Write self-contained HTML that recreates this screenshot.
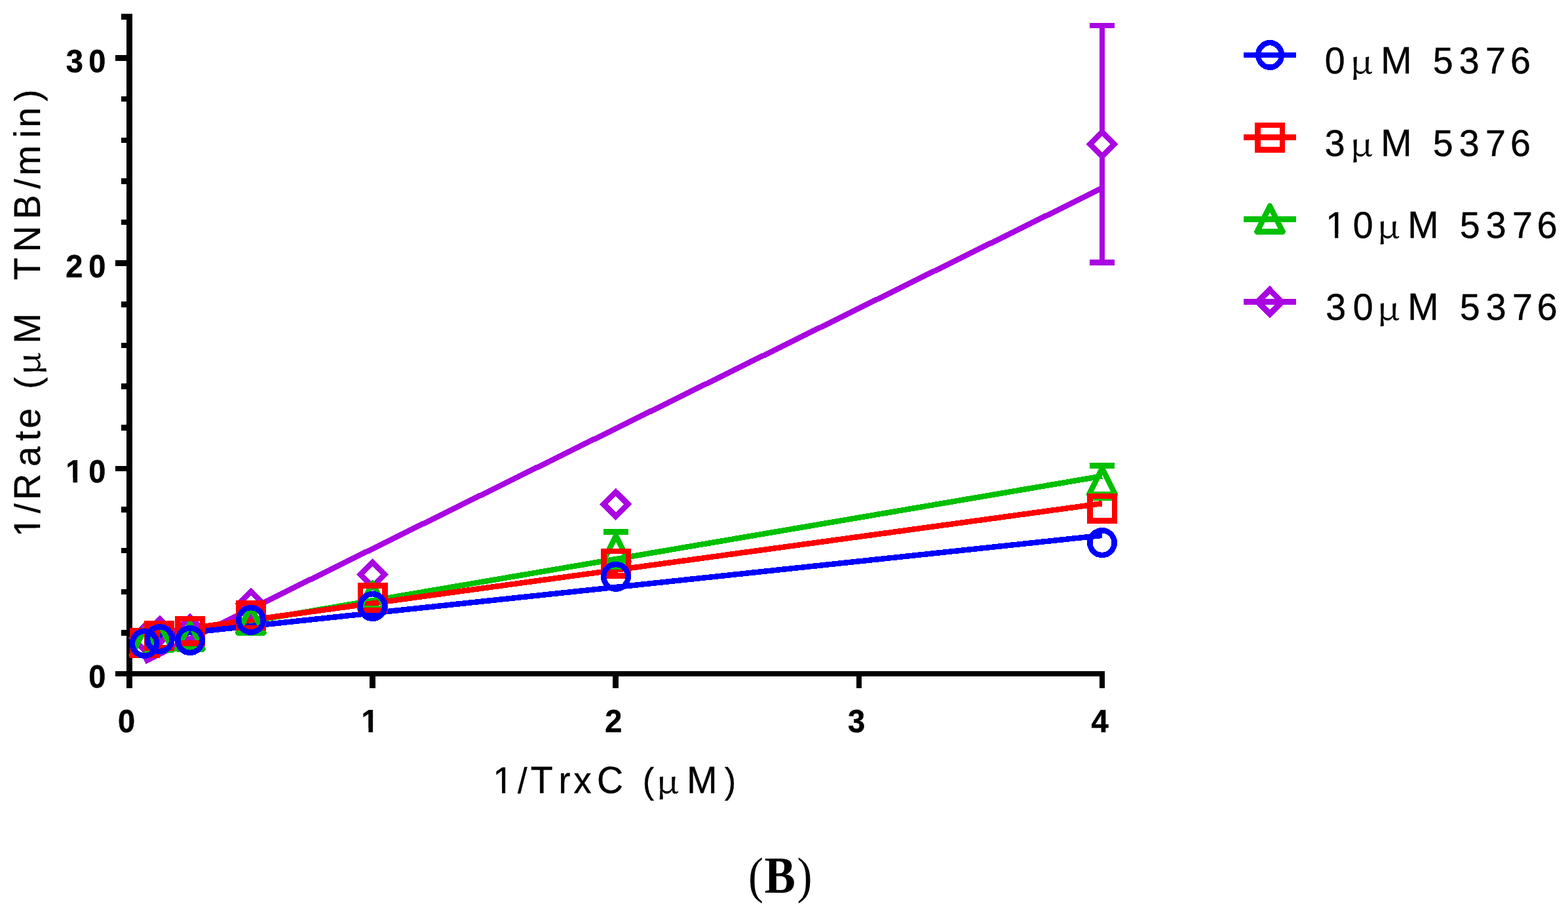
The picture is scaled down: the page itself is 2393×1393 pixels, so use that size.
<!DOCTYPE html>
<html lang="en"><head><meta charset="utf-8"><title>Figure B</title>
<style>
html,body{margin:0;padding:0;background:#fff;}
body{width:2393px;height:1393px;overflow:hidden;}
svg{display:block;}
text{fill:#000;white-space:pre;text-rendering:geometricPrecision;}
.tk{font-family:"Liberation Sans",Arial,sans-serif;font-weight:bold;font-size:47px;stroke:#000;stroke-width:0.5px;}
.ti{font-family:"Liberation Sans",Arial,sans-serif;font-size:55.6px;stroke:#000;stroke-width:0.4px;}
.mu{font-family:"Noto Serif CJK SC","Liberation Serif",serif;font-weight:400;}
.cap{font-family:"Liberation Serif","DejaVu Serif",serif;}
</style></head><body>
<svg width="2393" height="1393" viewBox="0 0 2393 1393">
<rect width="2393" height="1393" fill="#fff"/>
<defs><clipPath id="k1"><path clip-rule="evenodd" d="M-3000 -3000H3000V3000H-3000ZM102.04 -6.40H111.45V2.00H102.04ZM118.10 -6.40H126.91V2.00H118.10Z"/></clipPath><clipPath id="k2"><path clip-rule="evenodd" d="M-3000 -3000H3000V3000H-3000ZM553.04 -6.40H562.45V2.00H553.04ZM569.10 -6.40H577.91V2.00H569.10Z"/></clipPath><clipPath id="k3"><path clip-rule="evenodd" d="M-3000 -3000H3000V3000H-3000ZM755.22 -5.66H766.15V2.00H755.22ZM771.16 -5.66H781.67V2.00H771.16Z"/></clipPath><clipPath id="k4"><path clip-rule="evenodd" d="M-3000 -3000H3000V3000H-3000ZM-816.46 -5.75H-805.31V2.00H-816.46ZM-800.20 -5.75H-789.49V2.00H-800.20Z"/></clipPath><clipPath id="k5"><path clip-rule="evenodd" d="M-3000 -3000H3000V3000H-3000ZM2026.04 -5.75H2037.19V2.00H2026.04ZM2042.30 -5.75H2053.01V2.00H2042.30Z"/></clipPath></defs>
<g id="plot" shape-rendering="crispEdges">
<g id="axes" stroke="#000" stroke-width="8.5" fill="none">
<path d="M197.55 21V1050"/>
<path d="M176 1028.13H1686"/>
<path d="M185 965.46H195M185 902.82H195M185 840.18H195M185 777.54H195M176 714.90H195M185 652.26H195M185 589.62H195M185 526.98H195M185 464.34H195M176 401.70H195M185 339.06H195M185 276.42H195M185 213.78H195M185 151.14H195M176 88.50H195M185 25.50H195"/>
<path d="M568.60 1030V1050M939.70 1030V1050M1310.80 1030V1050M1681.90 1030V1050"/>
</g>
<g id="fits">
<line x1="220.70" y1="1009.20" x2="1682.00" y2="287.00" stroke="#A906E1" stroke-width="8.5"/>
<line x1="220.70" y1="975.60" x2="1682.00" y2="726.40" stroke="#00C000" stroke-width="8.5"/>
<line x1="220.70" y1="968.07" x2="1682.00" y2="768.16" stroke="#FF0000" stroke-width="8.5"/>
<line x1="220.70" y1="972.40" x2="1682.00" y2="816.90" stroke="#0000FF" stroke-width="8.5"/>
</g>
<g id="series-30uM">
<path d="M1682.00 39.00V201.25M1682.00 238.25V400.50M1662.95 39.00H1701.05M1662.95 400.50H1701.05" fill="none" stroke="#A906E1" stroke-width="8.5"/>
<path d="M220.60 954.65L239.10 973.15L220.60 991.65L202.10 973.15Z" fill="none" stroke="#A906E1" stroke-width="8.5" stroke-linejoin="miter"/>
<path d="M243.80 944.75L262.30 963.25L243.80 981.75L225.30 963.25Z" fill="none" stroke="#A906E1" stroke-width="8.5" stroke-linejoin="miter"/>
<path d="M290.00 941.70L308.50 960.20L290.00 978.70L271.50 960.20Z" fill="none" stroke="#A906E1" stroke-width="8.5" stroke-linejoin="miter"/>
<path d="M382.92 902.86L401.42 921.36L382.92 939.86L364.42 921.36Z" fill="none" stroke="#A906E1" stroke-width="8.5" stroke-linejoin="miter"/>
<path d="M568.60 858.20L587.10 876.70L568.60 895.20L550.10 876.70Z" fill="none" stroke="#A906E1" stroke-width="8.5" stroke-linejoin="miter"/>
<path d="M939.90 750.90L958.40 769.40L939.90 787.90L921.40 769.40Z" fill="none" stroke="#A906E1" stroke-width="8.5" stroke-linejoin="miter"/>
<path d="M1682.00 201.20L1700.50 219.70L1682.00 238.20L1663.50 219.70Z" fill="none" stroke="#A906E1" stroke-width="8.5" stroke-linejoin="miter"/>
</g>
<g id="series-10uM">
<path d="M939.90 811.60V818.60M939.90 857.80V864.80M920.85 811.60H958.95M920.85 864.80H958.95" fill="none" stroke="#00C000" stroke-width="8.5"/>
<path d="M1682.00 710.40V715.30M1682.00 754.50V759.40M1662.95 710.40H1701.05M1662.95 759.40H1701.05" fill="none" stroke="#00C000" stroke-width="8.5"/>
<path d="M220.60 960.25L240.30 999.45L200.90 999.45Z" fill="none" stroke="#00C000" stroke-width="8.5" stroke-linejoin="round"/>
<path d="M243.80 952.30L263.50 991.50L224.10 991.50Z" fill="none" stroke="#00C000" stroke-width="8.5" stroke-linejoin="round"/>
<path d="M290.00 951.20L309.70 990.40L270.30 990.40Z" fill="none" stroke="#00C000" stroke-width="8.5" stroke-linejoin="round"/>
<path d="M382.92 926.23L402.62 965.43L363.22 965.43Z" fill="none" stroke="#00C000" stroke-width="8.5" stroke-linejoin="round"/>
<path d="M568.60 889.35L588.30 928.55L548.90 928.55Z" fill="none" stroke="#00C000" stroke-width="8.5" stroke-linejoin="round"/>
<path d="M939.90 817.70L959.60 856.90L920.20 856.90Z" fill="none" stroke="#00C000" stroke-width="8.5" stroke-linejoin="round"/>
<path d="M1682.00 714.60L1701.70 753.80L1662.30 753.80Z" fill="none" stroke="#00C000" stroke-width="8.5" stroke-linejoin="round"/>
</g>
<g id="series-3uM">
<rect x="202.00" y="962.25" width="37.5" height="37.5" fill="none" stroke="#FF0000" stroke-width="8.5"/>
<rect x="224.25" y="951.15" width="37.5" height="37.5" fill="none" stroke="#FF0000" stroke-width="8.5"/>
<rect x="271.25" y="944.20" width="37.5" height="37.5" fill="none" stroke="#FF0000" stroke-width="8.5"/>
<rect x="364.17" y="920.27" width="37.5" height="37.5" fill="none" stroke="#FF0000" stroke-width="8.5"/>
<rect x="549.80" y="893.65" width="37.5" height="37.5" fill="none" stroke="#FF0000" stroke-width="8.5"/>
<rect x="921.25" y="841.15" width="37.5" height="37.5" fill="none" stroke="#FF0000" stroke-width="8.5"/>
<rect x="1663.25" y="757.21" width="37.5" height="37.5" fill="none" stroke="#FF0000" stroke-width="8.5"/>
</g>
<g id="series-0uM">
<ellipse cx="220.60" cy="981.80" rx="18.7" ry="18.8" fill="none" stroke="#0000FF" stroke-width="8.5"/>
<ellipse cx="243.80" cy="975.10" rx="18.7" ry="18.8" fill="none" stroke="#0000FF" stroke-width="8.5"/>
<ellipse cx="290.00" cy="977.07" rx="18.7" ry="18.8" fill="none" stroke="#0000FF" stroke-width="8.5"/>
<ellipse cx="382.92" cy="945.93" rx="18.7" ry="18.8" fill="none" stroke="#0000FF" stroke-width="8.5"/>
<ellipse cx="568.60" cy="925.00" rx="18.7" ry="18.8" fill="none" stroke="#0000FF" stroke-width="8.5"/>
<ellipse cx="939.90" cy="879.85" rx="18.7" ry="18.8" fill="none" stroke="#0000FF" stroke-width="8.5"/>
<ellipse cx="1682.00" cy="828.10" rx="18.7" ry="18.8" fill="none" stroke="#0000FF" stroke-width="8.5"/>
</g>
</g>
<g id="ticklabels">
<text class="tk" transform="translate(0 109.50) scale(1 1.04)" x="100.82 135.14" y="0">30</text>
<text class="tk" transform="translate(0 422.80) scale(1 1.04)" x="100.27 135.14" y="0">20</text>
<text class="tk" clip-path="url(#k1)" transform="translate(0 736.00) scale(1 1.04)" x="100.58 135.14" y="0">10</text>
<text class="tk" transform="translate(0 1049.00) scale(1 1.04)" x="135.14" y="0">0</text>
<text class="tk" transform="translate(0 1117.00) scale(1 1.04)" x="180.04" y="0">0</text>
<text class="tk" clip-path="url(#k2)" transform="translate(0 1117.00) scale(1 1.04)" x="551.58" y="0">1</text>
<text class="tk" transform="translate(0 1117.00) scale(1 1.04)" x="923.37" y="0">2</text>
<text class="tk" transform="translate(0 1117.00) scale(1 1.04)" x="1293.92" y="0">3</text>
<text class="tk" transform="translate(0 1117.00) scale(1 1.04)" x="1665.39" y="0">4</text>
</g>
<g id="titles">
<text class="ti" clip-path="url(#k3)" transform="translate(0 1210.00) scale(1 1.0457)" x="752.58 790.00 809.75 852.40 875.39 911.08 951.23 980.74 1001.56 1048.34 1105.69" y="0"><tspan font-size="54.38">1</tspan><tspan font-size="52.50">/</tspan>T<tspan font-size="54.21">rx</tspan>C <tspan font-size="52.50">(</tspan><tspan font-size="45.46" class="mu" textLength="34.75" lengthAdjust="spacingAndGlyphs">µ</tspan>M<tspan font-size="52.50">)</tspan></text>
<text class="ti" clip-path="url(#k4)" transform="translate(61.1 0) rotate(-90) translate(0 0.00) scale(1 1.022)" x="-819.20 -783.10 -762.66 -711.84 -672.73 -653.54 -622.93 -593.52 -572.34 -524.36 -478.05 -427.25 -384.46 -334.56 -287.80 -267.76 -210.38 -194.56 -154.41" y="0">1<tspan font-size="53.50">/</tspan>R<tspan font-size="55.04">ate</tspan> <tspan font-size="53.50">(</tspan><tspan font-size="46.51" class="mu" textLength="34.75" lengthAdjust="spacingAndGlyphs">µ</tspan>M TNB<tspan font-size="53.50">/</tspan><tspan font-size="55.04">min</tspan><tspan font-size="53.50">)</tspan></text>
</g>
<g id="legend">
<g shape-rendering="crispEdges">
<ellipse cx="1938.10" cy="83.90" rx="17.85" ry="18.8" fill="none" stroke="#0000FF" stroke-width="8.5"/>
<line x1="1898.00" y1="83.94" x2="1978.05" y2="83.94" stroke="#0000FF" stroke-width="8.5"/>
</g>
<text class="ti" transform="translate(0 112.05) scale(1 1.022)" x="2021.63 2060.34 2107.23 2154.63 2186.77 2226.78 2267.05 2305.08" y="0">0<tspan font-size="46.70" class="mu" textLength="34.87" lengthAdjust="spacingAndGlyphs">µ</tspan><tspan font-size="56.90">M</tspan> 5376</text>
<g shape-rendering="crispEdges">
<rect x="1919.25" y="191.22" width="37.5" height="37.5" fill="none" stroke="#FF0000" stroke-width="8.5"/>
<line x1="1898.00" y1="209.43" x2="1978.05" y2="209.43" stroke="#FF0000" stroke-width="8.5"/>
</g>
<text class="ti" transform="translate(0 237.50) scale(1 1.022)" x="2021.63 2060.34 2107.23 2154.63 2186.77 2226.78 2267.05 2305.08" y="0">3<tspan font-size="46.70" class="mu" textLength="34.87" lengthAdjust="spacingAndGlyphs">µ</tspan><tspan font-size="56.90">M</tspan> 5376</text>
<g shape-rendering="crispEdges">
<path d="M1938.00 314.35L1957.70 353.55L1918.30 353.55Z" fill="none" stroke="#00C000" stroke-width="8.5" stroke-linejoin="round"/>
<line x1="1898.00" y1="334.43" x2="1978.05" y2="334.43" stroke="#00C000" stroke-width="8.5"/>
</g>
<text class="ti" clip-path="url(#k5)" transform="translate(0 362.85) scale(1 1.022)" x="2023.30 2064.83 2101.54 2148.23 2195.63 2227.77 2267.78 2307.95 2345.78" y="0">10<tspan font-size="46.70" class="mu" textLength="34.87" lengthAdjust="spacingAndGlyphs">µ</tspan><tspan font-size="56.90">M</tspan> 5376</text>
<g shape-rendering="crispEdges">
<path d="M1938.00 442.00L1956.50 460.50L1938.00 479.00L1919.50 460.50Z" fill="none" stroke="#A906E1" stroke-width="8.5" stroke-linejoin="miter"/>
<line x1="1898.00" y1="460.45" x2="1978.05" y2="460.45" stroke="#A906E1" stroke-width="8.5"/>
</g>
<text class="ti" transform="translate(0 488.30) scale(1 1.022)" x="2023.30 2064.83 2101.54 2148.23 2195.63 2227.77 2267.78 2307.95 2345.78" y="0">30<tspan font-size="46.70" class="mu" textLength="34.87" lengthAdjust="spacingAndGlyphs">µ</tspan><tspan font-size="56.90">M</tspan> 5376</text>
</g>
<text id="caption" class="cap" font-size="77.5" transform="translate(0 1362.0) scale(0.89 1)" x="1283.11 1310.93 1366.94" y="0 0 0">(<tspan font-size="79.4" font-weight="bold">B</tspan>)</text>
</svg>
</body></html>
